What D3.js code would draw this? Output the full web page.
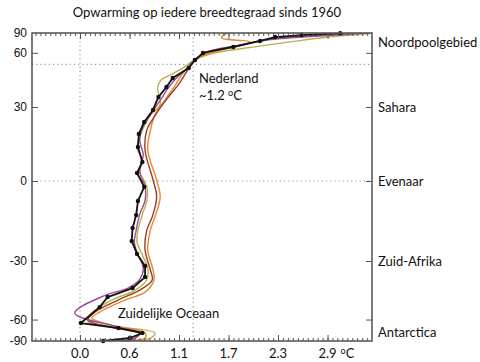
<!DOCTYPE html>
<html>
<head>
<meta charset="utf-8">
<script src="https://cdn.jsdelivr.net/npm/d3@7"></script>
<style>
  body { margin: 0; background: #fff; }
  svg { display: block; }
  .lbl { font-family: Lato, "Open Sans", sans-serif; font-size: 13px; fill: #111; }
  .ytick text { font-family: "Liberation Sans", Arial, sans-serif; font-size: 12px; fill: #111; }
</style>
</head>
<body>
<svg id="chart" width="480" height="362"></svg>
<script>
// warming (degC) per latitude, [lat, T]
var blackSeries = [[87, 2.92], [80.5, 2.49], [76.6, 2.19], [71.1, 2.02], [64.9, 1.72], [59.9, 1.38],
  [54.8, 1.29], [49.8, 1.22], [44.1, 1.04], [39.4, 0.97], [34.6, 0.88], [28.7, 0.82], [23.5, 0.72],
  [18.5, 0.66], [13.3, 0.65], [7.4, 0.70], [3.1, 0.64], [-2.1, 0.72], [-7.2, 0.65], [-12.3, 0.63],
  [-17.1, 0.59], [-22, 0.58], [-27.1, 0.64], [-32.1, 0.73], [-36.9, 0.73], [-42, 0.59], [-46.5, 0.31],
  [-52, 0.22], [-62.6, 0.01], [-66.8, 0.43], [-71.8, 0.70], [-78.9, 0.56], [-90, 0.26]];
var purpleSeries = [[88, 3.23], [80, 2.81], [72, 2.08], [65, 1.74], [60, 1.40], [54, 1.27], [49, 1.19],
  [44, 1.08], [39, 0.99], [33, 0.90], [26.5, 0.79], [21, 0.70], [16, 0.67], [10, 0.71], [4, 0.67],
  [-2, 0.73], [-7, 0.73], [-12, 0.67], [-18, 0.63], [-22.5, 0.61], [-27.5, 0.65], [-33, 0.71],
  [-38, 0.67], [-42, 0.54], [-46, 0.26], [-55.6, -0.06], [-65.9, 0.43], [-71.8, 0.67], [-83.5, 0.58]];
var greenSeries = [[85, 3.26], [77, 2.81], [70, 2.36], [65, 1.96], [60, 1.52], [55, 1.29], [50, 1.16],
  [45.7, 1.01], [43, 0.91], [39, 0.87], [31, 0.90], [26.5, 0.79], [21, 0.71], [13, 0.64], [8, 0.70],
  [3.5, 0.67], [-2, 0.75], [-7, 0.75], [-12, 0.70], [-18, 0.65], [-22.5, 0.64], [-27.5, 0.70],
  [-33, 0.76], [-38, 0.75], [-43, 0.62], [-48, 0.36], [-56.8, 0.11], [-61.8, 0.09], [-65, 0.34],
  [-71.8, 0.84], [-79, 0.79], [-88, 0.45]];
var orangeSeries = [[89, 3.28], [89, 1.66], [75, 1.59], [70, 1.91], [62, 1.57], [57, 1.35], [51, 1.23],
  [45.7, 1.14], [40.4, 1.07], [33, 0.95], [26.5, 0.84], [20, 0.79], [12, 0.76], [0.4, 0.86],
  [-5.7, 0.90], [-13, 0.84], [-17.8, 0.79], [-25.5, 0.76], [-33.8, 0.82], [-38.2, 0.83], [-44, 0.73],
  [-48, 0.51], [-55, 0.22], [-59, 0.13], [-64, 0.34], [-71.8, 0.73], [-79, 0.73], [-88, 0.45]];
var brownSeries = [[88, 3.20], [80, 2.69], [73.5, 2.13], [66.8, 1.80], [60, 1.40], [55, 1.29],
  [50.5, 1.23], [44.6, 1.16], [40.4, 1.10], [35.5, 1.01], [29.6, 0.90], [24.3, 0.81], [20.2, 0.75],
  [12, 0.73], [0.4, 0.82], [-5.7, 0.86], [-13, 0.81], [-17.8, 0.75], [-25.5, 0.73], [-33.8, 0.79],
  [-38.2, 0.81], [-43, 0.67], [-48, 0.43], [-55, 0.17], [-60.3, 0.09], [-66, 0.34], [-71.8, 0.67],
  [-79, 0.62], [-88, 0.34]];

var latTicks = [90, 60, 30, 0, -30, -60, -90];
var tempTickLabels = ['0.0', '0.6', '1.1', '1.7', '2.3', '2.9'];
var regionNames = ['Noordpoolgebied', 'Sahara', 'Evenaar', 'Zuid-Afrika', 'Antarctica'];
var regionLats = [69, 30, 0, -30, -71];
var nlLat = 52;
var nlTemp = 1.27;

var svg = d3.select('#chart');
var pLeft = 32, pRight = 372, pTop = 33, pBottom = 341;

// x ticks are whole degF, labelled in degC
var stepC = 5 / 9;
var x = d3.scaleLinear().domain([-0.539, 3.277]).range([pLeft, pRight]);
var ySin = d3.scaleLinear().domain([-1, 0, 1]).range([pBottom, 181, pTop]);
function sinDeg(d) { return Math.sin(d * Math.PI / 180); }
function y(lat) { return ySin(sinDeg(lat)); }

var majorX = d3.range(0, 6).map(function(k) { return k * stepC; });
var minorX = d3.range(-9, 59).map(function(k) { return k * stepC / 10; })
  .filter(function(v) { return x(v) > pLeft + 1 && x(v) < pRight - 1; });

svg.append('clipPath').attr('id', 'plotClip').append('rect')
  .attr('x', pLeft).attr('y', pTop).attr('width', pRight - pLeft).attr('height', pBottom - pTop);

// dotted guides
var guide = svg.append('g').attr('stroke', '#999').attr('stroke-width', 1.2)
  .attr('stroke-dasharray', '1.2,3');
guide.append('line').attr('x1', x(0)).attr('x2', x(0)).attr('y1', pTop).attr('y2', pBottom);
guide.append('line').attr('x1', x(nlTemp)).attr('x2', x(nlTemp)).attr('y1', pTop).attr('y2', pBottom);
guide.append('line').attr('x1', pLeft).attr('x2', pRight).attr('y1', y(0)).attr('y2', y(0));
guide.append('line').attr('x1', pLeft).attr('x2', pRight).attr('y1', y(nlLat)).attr('y2', y(nlLat));

// lines
var smooth = d3.line()
  .x(function(d) { return x(d[1]); })
  .y(function(d) { return y(d[0]); })
  .curve(d3.curveCatmullRom.alpha(0.5));
var straight = d3.line()
  .x(function(d) { return x(d[1]); })
  .y(function(d) { return y(d[0]); });

var colored = [
  {data: greenSeries, color: '#b4b448'},
  {data: orangeSeries, color: '#e8892c'},
  {data: brownSeries, color: '#9a3c34'},
  {data: purpleSeries, color: '#a04a9c'}
];
var plot = svg.append('g').attr('clip-path', 'url(#plotClip)');
colored.forEach(function(s) {
  plot.append('path').attr('d', smooth(s.data)).attr('fill', 'none')
    .attr('stroke', s.color).attr('stroke-width', 1.4).attr('stroke-linejoin', 'round');
});
plot.append('path').attr('d', straight(blackSeries)).attr('fill', 'none')
  .attr('stroke', '#111').attr('stroke-width', 1.8).attr('stroke-linejoin', 'round');
svg.selectAll('circle.dot').data(blackSeries).enter().append('circle')
  .attr('class', 'dot')
  .attr('cx', function(d) { return x(d[1]); })
  .attr('cy', function(d) { return y(d[0]); })
  .attr('r', 2.2).attr('fill', '#111');

// axes
function styleAxis(g) {
  g.select('.domain').remove();
  g.selectAll('line').attr('stroke', '#555').attr('stroke-width', 1);
}
svg.append('g').attr('transform', 'translate(0,' + pBottom + ')')
  .call(d3.axisBottom(x).tickValues(minorX).tickSize(-3).tickFormat('')).call(styleAxis);
svg.append('g').attr('transform', 'translate(0,' + pBottom + ')')
  .call(d3.axisBottom(x).tickValues(majorX).tickSize(-6).tickFormat('')).call(styleAxis);
svg.append('g').attr('transform', 'translate(0,' + pTop + ')')
  .call(d3.axisTop(x).tickValues(minorX).tickSize(-3).tickFormat('')).call(styleAxis);
svg.append('g').attr('transform', 'translate(0,' + pTop + ')')
  .call(d3.axisTop(x).tickValues(majorX).tickSize(-6).tickFormat('')).call(styleAxis);

var inner = latTicks.slice(1, -1).map(sinDeg);
svg.append('g').attr('class', 'ytick').attr('transform', 'translate(' + pLeft + ',0)')
  .call(d3.axisLeft(ySin).tickValues(latTicks.map(sinDeg)).tickSize(0).tickPadding(5)
    .tickFormat(function(d, i) { return latTicks[i]; }))
  .call(styleAxis);
svg.append('g').attr('transform', 'translate(' + pLeft + ',0)')
  .call(d3.axisLeft(ySin).tickValues(inner).tickSize(-6).tickFormat('')).call(styleAxis);
svg.append('g').attr('transform', 'translate(' + pRight + ',0)')
  .call(d3.axisRight(ySin).tickValues(inner).tickSize(-6).tickFormat('')).call(styleAxis);

svg.append('rect').attr('x', pLeft).attr('y', pTop).attr('width', pRight - pLeft).attr('height', pBottom - pTop)
  .attr('fill', 'none').attr('stroke', '#5a5a5a').attr('stroke-width', 1.6);

// x labels
svg.selectAll('text.xl').data(tempTickLabels).enter().append('text')
  .attr('class', 'lbl xl')
  .attr('x', function(d, i) { return x(majorX[i]); })
  .attr('y', 358).attr('text-anchor', 'middle').text(function(d) { return d; });
var unit = svg.append('text').attr('class', 'lbl').attr('x', x(majorX[5]) + 13).attr('y', 358);
unit.append('tspan').attr('font-size', 9).attr('dy', -4).text('o');
unit.append('tspan').attr('dy', 4).text('C');

// right labels
svg.selectAll('text.rl').data(regionNames).enter().append('text')
  .attr('class', 'lbl rl')
  .attr('x', pRight + 6)
  .attr('y', function(d, i) { return y(regionLats[i]); })
  .attr('dy', '0.35em').text(function(d) { return d; });

// title & notes
svg.append('text').attr('class', 'lbl').attr('x', 207).attr('y', 17).attr('text-anchor', 'middle')
  .text('Opwarming op iedere breedtegraad sinds 1960');
svg.append('text').attr('class', 'lbl').attr('x', 199).attr('y', 83).text('Nederland');
var nl = svg.append('text').attr('class', 'lbl').attr('x', 199).attr('y', 100);
nl.append('tspan').text('~1.2 ');
nl.append('tspan').attr('font-size', 9).attr('dy', -4).text('o');
nl.append('tspan').attr('dy', 4).text('C');
svg.append('text').attr('class', 'lbl').attr('x', 118).attr('y', 318).text('Zuidelijke Oceaan');
</script>
</body>
</html>
